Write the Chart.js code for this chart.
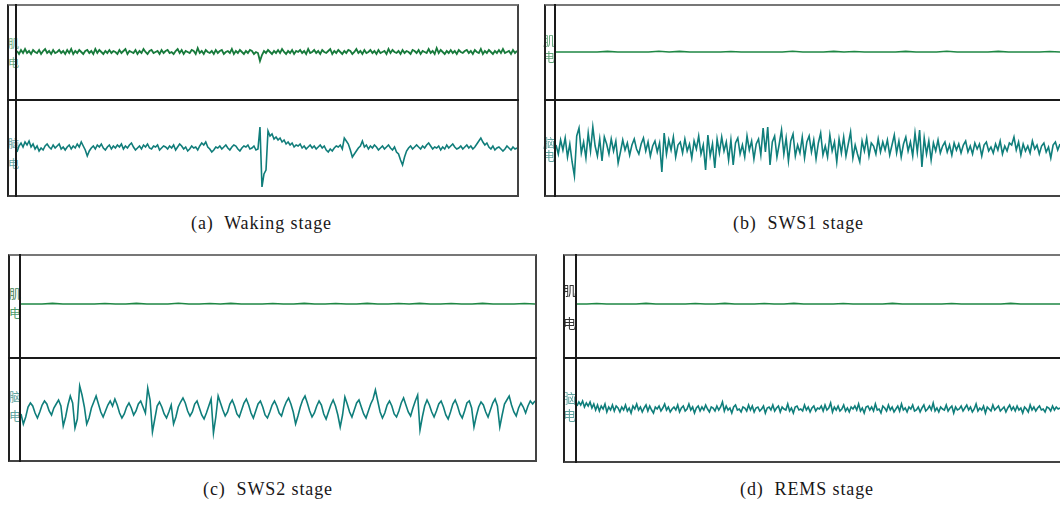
<!DOCTYPE html>
<html>
<head>
<meta charset="utf-8">
<script src="https://cdn.jsdelivr.net/npm/chart.js@4.4.1/dist/chart.umd.min.js"></script>
<style>
  html, body { margin:0; padding:0; background:#fff; width:1060px; height:505px; overflow:hidden; }
  .abs { position:absolute; }
  .frame { position:absolute; box-sizing:border-box; }
  .lbl { position:absolute; font-family:"Noto Sans CJK SC", sans-serif; line-height:1; }
  .cap { position:absolute; font-family:"Liberation Serif", serif; font-size:18px; line-height:18px; color:#1a1718; white-space:pre; letter-spacing:0.9px; }
  canvas { position:absolute; }
</style>
</head>
<body>
<script>
// ---------- DATA (pixel-like amplitude units, up = positive) ----------
const panelCaptions = ["(a)  Waking stage", "(b)  SWS1 stage", "(c)  SWS2 stage", "(d)  REMS stage"];
const emgLabel = ["肌", "电"];
const eegLabel = ["脑", "电"];

const emgA = [1,-2,2,-1,3,-1,1,-2,2,0,-1,2,-2,1,3,-1,1,-2,2,-1,0,2,-1,1,-2,
  2,-1,3,-2,1,-1,2,0,-2,1,2,-1,1,-2,3,-1,2,0,-2,1,-1,2,-1,1,0,
  -2,2,-1,1,3,-2,1,0,-1,2,-2,1,-1,3,0,-2,1,2,-1,0,1,-2,2,-1,1,
  2,-1,0,-2,1,3,-1,2,-2,1,0,-1,2,1,-2,4,-1,1,-2,2,0,-1,1,-2,2,
  -1,1,2,-2,0,1,-1,3,-2,1,-1,2,0,-2,1,-1,2,1,-2,0,-1,-9,-3,1,-1,
  2,0,-2,1,-1,2,-1,3,0,-2,1,-1,2,-2,1,0,2,-1,1,-2,3,-1,0,2,-1,
  1,-2,2,0,-1,1,3,-2,1,-1,2,0,-2,1,-1,2,1,-2,0,3,-1,1,-2,2,-1,
  0,2,-1,1,-2,2,-1,0,1,-2,3,-1,2,0,-1,1,-2,2,-1,1,0,-2,2,1,-1,
  2,-2,1,0,-1,3,-1,1,-2,4,-1,2,0,-2,1,-1,2,-1,1,-2,2,0,-1,1,2,
  -1,1,-2,2,0,-1,3,-2,1,-1,2,0,-2,1,-1,2,-1,3,-1,0,1,-2,2,-1,1];

const eegA = [-4,2,5,1,6,3,7,1,4,-1,2,-3,0,-2,2,4,1,-1,3,0,2,4,-1,1,-2,
  1,3,-1,2,0,4,1,6,2,-2,-8,-3,0,2,-1,3,1,4,0,-2,1,3,-1,2,0,
  3,1,4,-1,2,0,3,5,1,-2,0,2,-1,3,1,4,0,-1,2,1,3,-2,0,2,1,
  -1,2,0,3,-2,1,4,2,-1,1,-3,-1,2,0,1,-2,2,5,3,6,1,-1,-4,-2,1,
  0,2,-1,1,3,0,-2,1,3,2,-1,-3,0,2,1,3,-1,0,2,-2,-1,21,-39,-26,-22,
  17,12,14,9,11,8,10,6,8,4,6,3,5,1,3,2,4,0,2,-1,1,3,0,2,-1,
  1,3,0,2,-2,-4,-1,-3,0,2,1,3,-1,10,7,4,-2,-9,-6,-3,0,2,7,1,3,
  -1,2,0,3,1,-2,0,2,-1,1,3,0,-2,1,-4,-6,-12,-17,-9,-3,0,2,-1,1,3,
  1,-1,2,0,3,5,2,-1,1,0,2,-2,1,-1,3,0,2,4,1,-1,0,2,-1,1,3,
  0,2,-1,1,4,7,10,6,3,5,1,-1,2,-2,0,1,-1,-3,-1,2,0,-2,1,-1,0];

const emgB = [0,0,0,0,0,0.6,0,0,0,0,0.8,0,0.6,0,0,0,0,0.5,0,0,0,0,0,0.7,0,0,0,0.6,0,0.5,
  0,0,0,0,0.6,0,0,0,0.7,0,0,0,0,0.6,0,0,0,0,0.5,0];

const eegB = [3,-6,8,-2,10,-9,4,-14,-28,12,20,-5,6,-10,15,-3,21,2,-8,9,-13,11,
  4,-6,9,-3,7,-15,-4,8,-2,5,-7,3,9,-1,-6,4,10,-3,6,-8,2,7,
  -4,5,-24,15,-6,8,-2,11,-9,3,6,-5,9,-3,4,-10,7,-1,12,-6,3,-22,
  13,-8,4,-20,9,-5,11,-3,6,-12,8,-17,5,10,-6,3,-9,12,-2,7,-11,4,
  9,-7,20,-4,21,-17,6,12,-9,4,18,-6,10,-13,7,14,-8,3,-5,11,-10,6,
  12,-4,8,-11,5,15,-7,2,-9,13,-3,6,-14,9,-5,11,-8,4,16,-10,3,-6,
  -14,7,-3,10,-8,5,2,-6,9,-4,6,-2,8,-7,3,13,-5,7,-9,4,11,-3,
  6,-8,15,-4,18,-19,10,-6,7,-12,5,-3,8,-5,2,6,-4,3,-7,5,-2,4,
  -5,3,7,-4,2,-6,5,-1,4,-8,3,6,-3,1,-5,4,-2,7,-6,2,-3,5,
  3,11,-2,6,-7,4,-3,2,-5,7,-1,3,-6,2,5,-4,1,-10,3,6,-2,4];

const emgC = [0,0,0,0.6,0,0,0,0,0.5,0,0,0.6,0,0,0,0.7,0,0,0.5,0,0.6,0,0,0,0.5,0,0,0.6,0,0,
  0.5,0,0,0.6,0,0,0.5,0,0.6,0,0,0.5,0,0,0.6,0,0,0,0.5,0];

const eegC = [-5,-15,-8,2,6,3,-4,-9,-3,4,8,5,-2,-6,1,5,9,3,-17,-8,4,13,
  6,-19,-10,23,14,2,-15,-9,1,7,13,5,-3,-8,-2,4,8,3,10,4,-4,-9,
  -5,2,6,1,-6,-2,5,8,2,-4,21,9,-23,-10,3,7,2,-5,-9,-3,4,-15,
  -8,2,7,11,6,-2,-7,-3,5,8,1,-6,-10,-4,3,10,-24,-8,13,6,-1,-7,
  -3,5,9,3,-5,-8,-1,6,10,4,-4,-9,-2,5,8,2,-6,-9,-3,4,8,3,
  -4,-7,1,7,11,5,-3,-15,-7,2,9,13,6,-2,-8,-4,3,8,4,-5,-10,-3,
  4,9,3,-6,-18,-6,12,5,-3,-8,-1,6,9,2,-5,-9,-2,5,10,19,8,-3,
  -9,-4,4,8,3,-5,-8,-2,6,11,4,-3,-7,1,8,14,-21,-8,3,9,4,-3,
  -8,-2,5,8,2,-6,-10,-3,5,9,3,-5,-9,-2,6,8,1,-18,-7,2,7,4,
  -3,-8,-1,6,10,3,-18,-6,5,9,13,4,-3,-7,1,6,2,-4,3,8,5,8];

const emgD = [0,0,0.5,0,0,0,0,0.6,0,0,0,0,0.5,0,0,0.6,0,0,0,0.5,0,0,0.6,0,0,0,0,0.5,0,0,
  0,0,0.6,0,0,0,0,0,0.5,0,0,0,0,0,0.6,0,0,0,0,0];

const eegD = [3,7,4,8,2,6,3,7,1,5,-1,4,-2,3,0,5,-3,2,-1,4,-2,3,1,-3,2,-1,
  4,-2,1,-4,3,0,5,-1,2,-3,1,4,-2,3,-1,-4,2,0,3,-2,1,5,-1,2,-3,0,
  2,-1,4,-3,1,3,-2,0,5,-1,2,-4,1,3,-2,2,-1,4,0,-3,2,1,-2,3,-1,2,
  7,-2,3,-1,1,-4,2,4,-1,0,-3,2,1,-2,4,-1,3,-3,1,2,-2,0,3,-4,1,2,
  -1,4,-2,1,3,-3,2,0,-1,5,-2,1,-4,2,3,-1,0,-2,4,-1,2,-3,1,3,-2,1,
  0,3,-2,4,-1,1,6,-3,2,-1,3,-2,0,4,-2,1,-3,2,0,3,-1,5,-2,1,-4,2,
  3,-1,2,-2,5,-1,0,-4,3,1,-2,4,-1,2,-3,0,3,-2,5,-1,1,-3,2,0,4,-2,
  -1,2,-3,1,4,-2,0,3,-1,6,-2,1,-3,2,0,-1,4,-2,1,3,-4,2,-1,0,3,-2,
  1,4,-1,2,-3,0,5,-2,1,-1,3,-4,2,0,-2,4,-1,1,3,-2,0,2,-3,1,4,-1,
  2,-2,3,-1,1,-4,2,0,-3,4,-1,2,-2,1,3,-1,0,-3,2,1,-2,3,-1,2,0,1];

// ---------- LAYOUT ----------
const panels = [
  { emg: emgA, eeg: eegA, emgColor:'#177a3b', emgWidth:1.8, eegColor:'#107d7a', eegWidth:1.6,
    frame:{x:7,y:4,w:512,h:193,right:true}, inner:15, mid:99,
    canvas:{x:17,y:6,w:500,h:189}, emgY:52, eegY:148,
    labels:{x:8, size:11, emgC:['#6aab80','#6aab80'], eegC:['#64a6a3','#64a6a3'], emgYs:[43,62], eegYs:[143,163]},
    cap:{x:191,y:214} },
  { emg: emgB, eeg: eegB, emgColor:'#1f8744', emgWidth:1.6, eegColor:'#0f7e7b', eegWidth:1.6,
    frame:{x:544,y:4,w:516,h:193,right:false}, inner:554, mid:99,
    canvas:{x:556,y:6,w:504,h:189}, emgY:52, eegY:148,
    labels:{x:543, size:12, emgC:['#5ea276','#5ea276'], eegC:['#5fa3a0','#5fa3a0'], emgYs:[41,57], eegYs:[143,156]},
    cap:{x:733,y:214} },
  { emg: emgC, eeg: eegC, emgColor:'#1f8744', emgWidth:1.6, eegColor:'#0f7e7b', eegWidth:1.6,
    frame:{x:8,y:254,w:529,h:208,right:true}, inner:19, mid:357,
    canvas:{x:21,y:256,w:514,h:204}, emgY:304, eegY:409,
    labels:{x:9, size:12, emgC:['#3f7f52','#4e9c6c'], eegC:['#5fa3a0','#5fa3a0'], emgYs:[294,313], eegYs:[397,416]},
    cap:{x:203,y:480} },
  { emg: emgD, eeg: eegD, emgColor:'#1f8744', emgWidth:1.6, eegColor:'#0f7e7b', eegWidth:1.6,
    frame:{x:563,y:254,w:497,h:209,right:false}, inner:575, mid:357,
    canvas:{x:577,y:256,w:483,h:205}, emgY:304, eegY:409,
    labels:{x:563, size:13, emgC:['#333','#333'], eegC:['#5fa3a0','#5fa3a0'], emgYs:[289,322], eegYs:[397,414]},
    cap:{x:740,y:480} }
];

function addDiv(cls, style, text) {
  const d = document.createElement('div');
  d.className = cls;
  Object.assign(d.style, style);
  if (text !== undefined) d.textContent = text;
  document.body.appendChild(d);
  return d;
}

function toPoints(arr) {
  const n = arr.length;
  return arr.map((v, i) => ({ x: i / (n - 1), y: v }));
}

panels.forEach((p, k) => {
  const L = p.labels;
  emgLabel.forEach((ch, i) => addDiv('lbl', {left:L.x+'px', top:(L.emgYs[i]-L.size/2)+'px', fontSize:L.size+'px', color:L.emgC[i]}, ch));
  eegLabel.forEach((ch, i) => addDiv('lbl', {left:L.x+'px', top:(L.eegYs[i]-L.size/2)+'px', fontSize:L.size+'px', color:L.eegC[i]}, ch));

  const c = p.canvas;
  const cv = document.createElement('canvas');
  cv.width = c.w; cv.height = c.h;
  cv.style.left = c.x + 'px'; cv.style.top = c.y + 'px';
  cv.style.width = c.w + 'px'; cv.style.height = c.h + 'px';
  document.body.appendChild(cv);
  const emgOff = p.emgY - c.y, eegOff = p.eegY - c.y;
  new Chart(cv, {
    type: 'line',
    data: {
      datasets: [
        { data: toPoints(p.emg), yAxisID: 'yEmg', borderColor: p.emgColor, borderWidth: p.emgWidth, pointRadius: 0, tension: 0, fill: false },
        { data: toPoints(p.eeg), yAxisID: 'yEeg', borderColor: p.eegColor, borderWidth: p.eegWidth, pointRadius: 0, tension: 0, fill: false }
      ]
    },
    options: {
      responsive: false, animation: false, events: [], devicePixelRatio: 1,
      layout: { padding: 0 },
      plugins: { legend: { display: false }, tooltip: { enabled: false }, title: { display: false } },
      scales: {
        x: { type: 'linear', min: 0, max: 1, display: false },
        yEmg: { type: 'linear', min: emgOff - c.h, max: emgOff, display: false },
        yEeg: { type: 'linear', min: eegOff - c.h, max: eegOff, display: false }
      }
    }
  });

  const f = p.frame;
  addDiv('frame', {left:f.x+'px', top:f.y+'px', width:f.w+'px', height:f.h+'px',
    borderLeft:'2px solid #222', borderTop:'2px solid #777', borderBottom:'2px solid #444',
    borderRight: f.right ? '2px solid #444' : 'none'});
  addDiv('abs', {left:p.inner+'px', top:f.y+'px', width:'2px', height:f.h+'px', background:'#1a1a1a'});
  addDiv('abs', {left:f.x+'px', top:p.mid+'px', width:f.w+'px', height:'2px', background:'#1a1a1a'});

  addDiv('cap', {left:p.cap.x+'px', top:p.cap.y+'px'}, panelCaptions[k]);
});
</script>
</body>
</html>
